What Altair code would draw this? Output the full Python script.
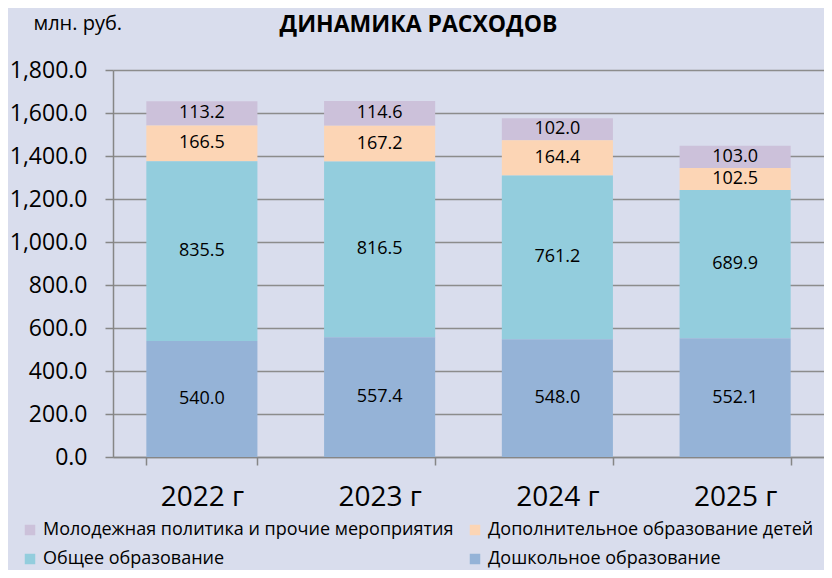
import altair as alt
import pandas as pd

years = ["2022 г", "2023 г", "2024 г", "2025 г"]
categories = [
    "Молодежная политика и прочие мероприятия",
    "Дополнительное образование детей",
    "Общее образование",
    "Дошкольное образование",
]
legend_order = [
    "Молодежная политика и прочие мероприятия",
    "Общее образование",
    "Дополнительное образование детей",
    "Дошкольное образование",
]
colors_by_cat = {
    "Молодежная политика и прочие мероприятия": "#CCC1DA",
    "Дополнительное образование детей": "#FCD5B5",
    "Общее образование": "#93CDDD",
    "Дошкольное образование": "#95B3D7",
}
stack_order = [4, 3, 2, 1]

molodezh = [113.2, 114.6, 102.0, 103.0]
dopoln = [166.5, 167.2, 164.4, 102.5]
obshee = [835.5, 816.5, 761.2, 689.9]
doshk = [540.0, 557.4, 548.0, 552.1]
series = [molodezh, dopoln, obshee, doshk]

rows = []
for ci, cat in enumerate(categories):
    for yi, yr in enumerate(years):
        rows.append({"year": yr, "cat": cat, "value": series[ci][yi], "ord": stack_order[ci]})
df = pd.DataFrame(rows)

FONT = "Open Sans"

base = alt.Chart(df).encode(
    x=alt.X("year:N", sort=years,
            scale=alt.Scale(paddingInner=0.375, paddingOuter=0.1875),
            axis=alt.Axis(title=None, labelFontSize=28, labelFont=FONT, labelColor="#000000",
                          labelPadding=18, tickBand="extent", tickSize=8, tickColor="#868686",
                          tickWidth=1.5, domainColor="#868686", domainWidth=1.5, grid=False,
                          labelAngle=0)),
)

bars = base.mark_bar().encode(
    y=alt.Y("value:Q", stack="zero",
            scale=alt.Scale(domain=[0, 1800]),
            axis=alt.Axis(values=[0, 200, 400, 600, 800, 1000, 1200, 1400, 1600, 1800],
                          format=",.1f", labelFontSize=23, labelFont=FONT, labelColor="#000000",
                          labelPadding=18, tickSize=8, tickColor="#868686", tickWidth=1.5,
                          domainColor="#868686", domainWidth=1.5,
                          grid=True, gridColor="#8C8C8C", gridWidth=1.5,
                          title="млн. руб.", titleAngle=0, titleFont=FONT, titleFontSize=20,
                          titleFontWeight="normal", titleColor="#000000",
                          titleX=-80, titleY=-41, titleAlign="left", titleBaseline="alphabetic")),
    color=alt.Color("cat:N", sort=legend_order,
                    scale=alt.Scale(domain=legend_order,
                                    range=[colors_by_cat[c] for c in legend_order]),
                    legend=alt.Legend(title=None, orient="none", legendX=-92, legendY=451,
                                      columns=2, columnPadding=12, rowPadding=11,
                                      symbolType="square", symbolSize=110, symbolStrokeWidth=0,
                                      labelFont=FONT, labelFontSize=18, labelColor="#000000",
                                      labelLimit=600, symbolOffset=0, labelOffset=4)),
    order=alt.Order("ord:Q"),
)

labels = base.mark_text(font=FONT, fontSize=18, color="#000000").encode(
    y=alt.Y("mid:Q"),
    text=alt.Text("value:Q", format=".1f"),
).transform_stack(
    stack="value", groupby=["year"], sort=[alt.SortField("ord")], as_=["y0", "y1"]
).transform_calculate(mid="(datum.y0 + datum.y1) / 2")

chart = alt.layer(bars, labels).properties(
    width=711, height=387,
    autosize=alt.AutoSizeParams(type="none"),
    padding={"left": 105, "top": 62, "right": 0, "bottom": 113},
    background="#D9DDED",
    title=alt.Title("ДИНАМИКА РАСХОДОВ", fontSize=23, font=FONT, fontWeight="bold",
                    color="#000000", anchor="middle", dx=-50, offset=0, dy=24),
).configure_view(stroke=None)

chart.save("out.html", embed_options={"renderer": "svg", "actions": False})
